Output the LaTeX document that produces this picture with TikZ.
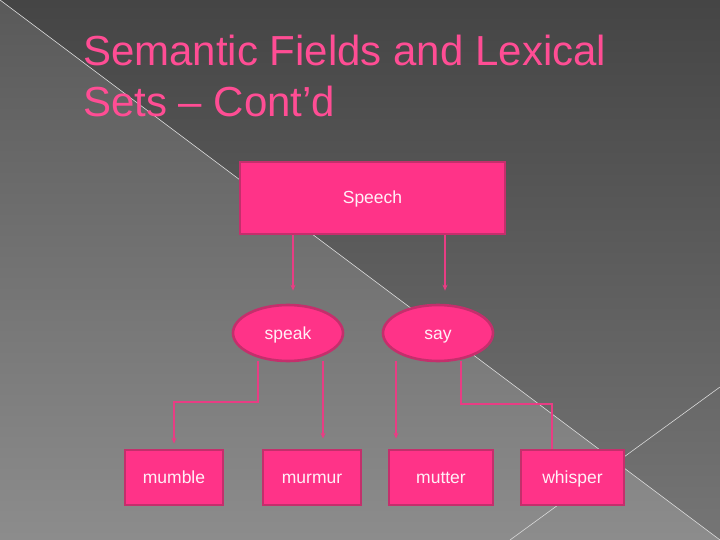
\documentclass[tikz,border=0pt]{standalone}
\usepackage{fontspec}
\setmainfont{Liberation Sans}
\usetikzlibrary{shapes.geometric,arrows.meta,calc}
\definecolor{pinkfill}{HTML}{FF3388}
\definecolor{pinkline}{HTML}{C42F6C}
\definecolor{connpink}{HTML}{E83D84}
\definecolor{titlepink}{HTML}{FF4D94}
\definecolor{labeltext}{HTML}{FFF0F7}
\tikzset{
  lbl/.style={text=labeltext, font=\fontsize{17.5}{20}\selectfont, text height=12pt, text depth=0pt},
  box/.style={rectangle, fill=pinkfill, draw=pinkline, line width=2.6pt, inner sep=0pt, lbl},
  oval/.style={ellipse, fill=pinkfill, draw=pinkline, line width=2.6pt, inner sep=0pt, lbl,
    minimum width=110pt, minimum height=56pt},
  conn/.style={draw=connpink, line width=1.8pt},
  arr/.style={conn, -{Stealth[length=6pt,width=5pt]}},
  titletext/.style={anchor=base west, font=\fontsize{42}{50}\selectfont, inner sep=0pt, text=titlepink}
}
\begin{document}
\begin{tikzpicture}[x=1pt,y=-1pt]
\useasboundingbox (0,0) rectangle (720,540);
% background
\shade[top color=black!73, bottom color=black!54] (0,0) rectangle (720,540);
\shade[top color=black!65, bottom color=black!45] (0,0) -- (720,540) -- (0,540) -- cycle;
\draw[white!70!gray, line width=0.6pt] (0,0) -- (720,540);
\draw[white!70!gray, line width=0.6pt] (510,540) -- (720,387);
% title
\node[titletext] (t1) at (83,66) {Semantic Fields and Lexical};
\node[titletext] (t2) at (83,117) {Sets – Cont’d};
% nodes
\node[box, minimum width=265pt, minimum height=72pt] (speech) at (372.5,198) {Speech};
\node[oval] (speak) at (288,333) {speak};
\node[oval] (say) at (438,333) {say};
\node[box, minimum width=98pt, minimum height=55pt] (mumble) at (174,477.5) {mumble};
\node[box, minimum width=98pt, minimum height=55pt] (murmur) at (312,477.5) {murmur};
\node[box, minimum width=104pt, minimum height=55pt] (mutter) at (441,477.5) {mutter};
\node[box, minimum width=103pt, minimum height=55pt] (whisper) at (572.5,477.5) {whisper};
% connectors
\draw[arr] ([xshift=-79.5pt]speech.south) -- ([xshift=5pt,yshift=13pt]speak.north);
\draw[arr] ([xshift=72.5pt]speech.south) -- ([xshift=7pt,yshift=13pt]say.north);
\draw[arr] ([xshift=-30pt,yshift=1pt]speak.south) -- ++(0,41) -| ([yshift=5pt]mumble.north);
\draw[arr] ([xshift=35pt,yshift=1pt]speak.south) -- ([xshift=11pt,yshift=10pt]murmur.north);
\draw[arr] ([xshift=-42pt,yshift=1pt]say.south) -- ([xshift=-45pt,yshift=10pt]mutter.north);
\draw[conn] ([xshift=23pt,yshift=1pt]say.south) -- ++(0,43) -| ([xshift=-20.5pt]whisper.north);
\end{tikzpicture}
\end{document}
